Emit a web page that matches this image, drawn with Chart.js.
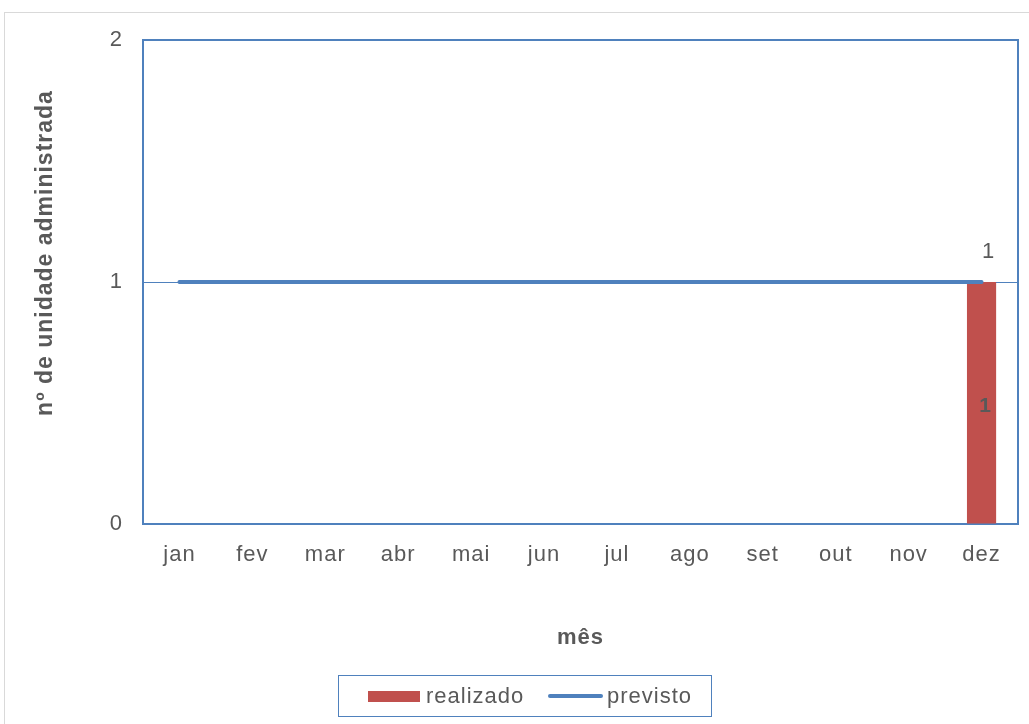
<!DOCTYPE html>
<html>
<head>
<meta charset="utf-8">
<script src="https://cdn.jsdelivr.net/npm/chart.js@4/dist/chart.umd.min.js"></script>
<style>
  html, body { margin: 0; padding: 0; background: #fff; }
  #wrap { width: 1029px; height: 724px; position: relative; }
</style>
</head>
<body>
<div id="wrap"><canvas id="grafico"></canvas></div>
<script>
// Dados
const meses = ["jan", "fev", "mar", "abr", "mai", "jun", "jul", "ago", "set", "out", "nov", "dez"];
const realizado = [null, null, null, null, null, null, null, null, null, null, null, 1];
const previsto = [1, 1, 1, 1, 1, 1, 1, 1, 1, 1, 1, 1];
const ticksY = [0, 1, 2];
const tituloY = "nº de unidade administrada";

const AZUL = "#4F81BD";
const VERMELHO = "#C0504D";
const CINZA = "#595959";
const FONTE = "'Liberation Sans', Arial, sans-serif";
const ESPACO = "1px";

// Espaçamento entre letras (o canvas perde o estado quando é redimensionado)
const espacamento = {
  id: "espacamento",
  beforeLayout(chart) { chart.ctx.letterSpacing = ESPACO; },
  beforeDraw(chart) { chart.ctx.letterSpacing = ESPACO; },
};

// Moldura externa e borda da área do gráfico
const molduras = {
  id: "molduras",
  beforeDraw(chart) {
    const ctx = chart.ctx;
    ctx.save();
    ctx.strokeStyle = "#D9D9D9";
    ctx.lineWidth = 1;
    ctx.strokeRect(4.5, 12.5, 2000, 2000);
    ctx.restore();
  },
  beforeDatasetsDraw(chart) {
    const { ctx, chartArea: a } = chart;
    ctx.save();
    ctx.strokeStyle = AZUL;
    ctx.lineWidth = 2;
    ctx.strokeRect(a.left, a.top, a.right - a.left, a.bottom - a.top);
    ctx.restore();
  },
};

// Título do eixo vertical, um pouco acima do centro da área
const tituloVertical = {
  id: "tituloVertical",
  afterDraw(chart) {
    const ctx = chart.ctx;
    ctx.save();
    ctx.translate(46, 253);
    ctx.rotate(-Math.PI / 2);
    ctx.fillStyle = CINZA;
    ctx.font = "bold 23px " + FONTE;
    ctx.textAlign = "center";
    ctx.textBaseline = "middle";
    ctx.fillText(tituloY, 0, 0);
    ctx.restore();
  },
};

// Rótulos de valor
const rotulos = {
  id: "rotulos",
  afterDatasetsDraw(chart) {
    const ctx = chart.ctx;
    const y = chart.scales.y;
    ctx.save();
    ctx.fillStyle = CINZA;
    ctx.textAlign = "center";
    ctx.textBaseline = "middle";

    // barras: valor no meio da barra
    chart.getDatasetMeta(0).data.forEach((bar, i) => {
      const v = realizado[i];
      if (v == null) return;
      ctx.font = "bold 21px " + FONTE;
      ctx.fillText(String(v), bar.x + 4, (bar.y + y.getPixelForValue(0)) / 2 + 3);
    });

    // linha: valor acima do último ponto
    const pts = chart.getDatasetMeta(1).data;
    const last = pts.length - 1;
    ctx.font = "22px " + FONTE;
    ctx.fillText(String(previsto[last]), pts[last].x + 7, pts[last].y - 30);
    ctx.restore();
  },
};

// Legenda com caixa
const legenda = {
  id: "legenda",
  afterDraw(chart) {
    const ctx = chart.ctx;
    const box = { x: 338.5, y: 675.5, w: 373, h: 41 };
    const cy = box.y + box.h / 2;
    ctx.save();
    ctx.strokeStyle = AZUL;
    ctx.lineWidth = 1;
    ctx.strokeRect(box.x, box.y, box.w, box.h);

    ctx.fillStyle = VERMELHO;
    ctx.fillRect(368, cy - 5, 52, 11);

    ctx.strokeStyle = AZUL;
    ctx.lineWidth = 4;
    ctx.lineCap = "round";
    ctx.beginPath();
    ctx.moveTo(550, cy);
    ctx.lineTo(601, cy);
    ctx.stroke();

    ctx.fillStyle = CINZA;
    ctx.font = "22px " + FONTE;
    ctx.textBaseline = "middle";
    ctx.textAlign = "left";
    ctx.fillText(chart.data.datasets[0].label, 426, cy + 1);
    ctx.fillText(chart.data.datasets[1].label, 607, cy + 1);
    ctx.restore();
  },
};

const ctx = document.getElementById("grafico").getContext("2d");

new Chart(ctx, {
  type: "bar",
  data: {
    labels: meses,
    datasets: [
      {
        label: "realizado",
        data: realizado,
        backgroundColor: VERMELHO,
        categoryPercentage: 1,
        barPercentage: 0.4,
        order: 2,
      },
      {
        type: "line",
        label: "previsto",
        data: previsto,
        borderColor: AZUL,
        borderWidth: 4,
        borderCapStyle: "round",
        pointRadius: 0,
        fill: false,
        order: 1,
      },
    ],
  },
  options: {
    responsive: true,
    maintainAspectRatio: false,
    animation: false,
    layout: { padding: { left: 0, top: 40, right: 11, bottom: 70 } },
    plugins: {
      legend: { display: false },
      tooltip: { enabled: false },
    },
    scales: {
      x: {
        grid: { display: false },
        border: { display: false },
        ticks: {
          color: CINZA,
          font: { family: FONTE, size: 22 },
          padding: 10,
        },
        title: {
          display: true,
          text: "mês",
          color: CINZA,
          font: { family: FONTE, size: 22, weight: "bold" },
          padding: { top: 0, bottom: 3 },
        },
        afterFit(scale) {
          scale.height = 130;
        },
      },
      y: {
        min: 0,
        max: 2,
        border: { display: false },
        grid: {
          drawTicks: false,
          color: (c) => (c.tick && c.tick.value === 1 ? AZUL : "rgba(0,0,0,0)"),
          lineWidth: 1,
          borderDash: [10, 4, 1, 4, 1, 4],
        },
        ticks: {
          stepSize: 1,
          color: CINZA,
          font: { family: FONTE, size: 22 },
          padding: 20,
          callback: (v) => (ticksY.includes(v) ? String(v) : ""),
        },
        afterFit(scale) {
          scale.width = 143;
        },
      },
    },
  },
  plugins: [espacamento, molduras, tituloVertical, rotulos, legenda],
});
</script>
</body>
</html>
